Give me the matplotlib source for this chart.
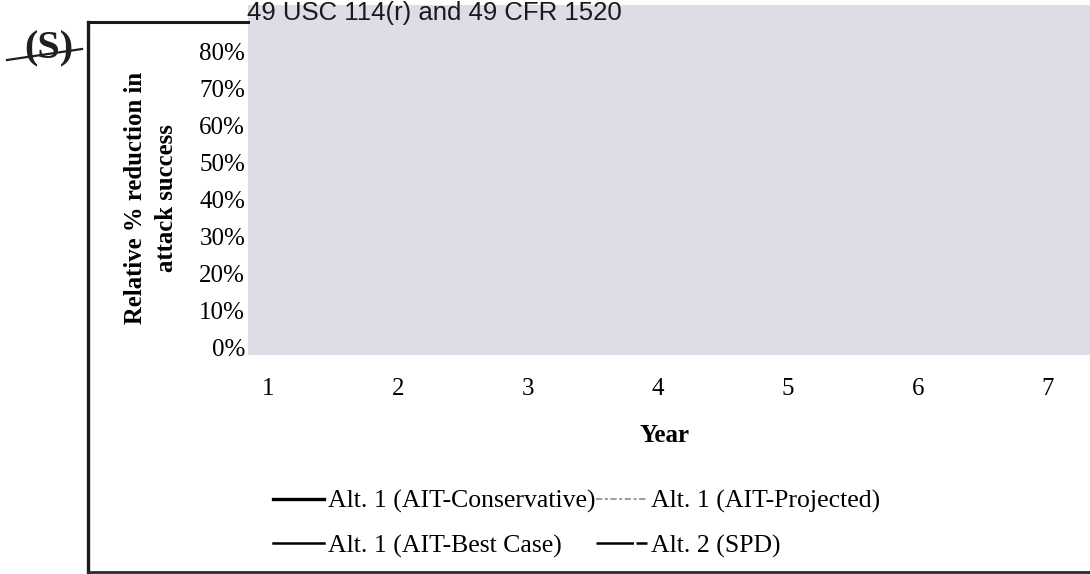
import matplotlib.pyplot as plt
from matplotlib.lines import Line2D

# Chart data (the plotted values are redacted in the source, so the series are empty)
years = [1, 2, 3, 4, 5, 6, 7]
pct_ticks = [0, 10, 20, 30, 40, 50, 60, 70, 80]
pct_labels = ["0%", "10%", "20%", "30%", "40%", "50%", "60%", "70%", "80%"]
series_names = ["Alt. 1 (AIT-Conservative)", "Alt. 1 (AIT-Projected)",
                "Alt. 1 (AIT-Best Case)", "Alt. 2 (SPD)"]
series_values = [[], [], [], []]
redaction_note = "49 USC 114(r) and 49 CFR 1520"

W, H = 1090, 574
fig = plt.figure(figsize=(W / 100, H / 100), dpi=100)
fig.patch.set_facecolor("white")

serif = "Liberation Serif"
fs = 18

# plot area is covered by the redaction box: pixels x 248..1090, y 5..355
ax = fig.add_axes([248 / W, 1 - 355 / H, (W - 248) / W, 350 / H])
ax.set_facecolor("#dcdde7")
for s in ax.spines.values():
    s.set_visible(False)

# x: year 1 at px 268, spacing 130 px; y: 0% at px 347, 36.9 px per 10%
ax.set_xlim(1 - 20 / 130, 7 + 42 / 130)
ax.set_ylim(-8 / 3.6875, (347 - 5) / 3.6875)

styles = [dict(color="black", lw=2.4, ls="-"),
          dict(color="#a0a0a0", lw=1.5, ls=(0, (3, 1.2, 1.5, 1.2))),
          dict(color="black", lw=1.8, ls="-"),
          dict(color="black", lw=1.8, ls=(0, (15, 1.0)))]
handles = []
for name, vals, st in zip(series_names, series_values, styles):
    line, = ax.plot(years[:len(vals)], vals, label=name, **st)
    handles.append(line)

ax.set_xticks(years)
ax.set_xticklabels([str(y) for y in years])
ax.set_yticks(pct_ticks)
ax.set_yticklabels(pct_labels)
ax.tick_params(axis="both", length=0, labelsize=fs)
ax.tick_params(axis="x", pad=16.5)
ax.tick_params(axis="y", pad=2)
for t in ax.get_xticklabels() + ax.get_yticklabels():
    t.set_fontfamily(serif)

ax.set_xlabel("Year", fontsize=fs, fontweight="bold", fontfamily=serif)
ax.xaxis.set_label_coords((665 - 248) / 842, (355 - 435) / 350)
ax.xaxis.label.set_va("center")

ax.set_ylabel("Relative % reduction in\nattack success", fontsize=17.8,
              fontweight="bold", fontfamily=serif, linespacing=1.45)
ax.yaxis.set_label_coords((151 - 248) / 842, (355 - 198) / 350)
ax.yaxis.label.set_va("center")

# legend below the chart; matplotlib fills by column, so reorder for rows
order = [0, 2, 1, 3]
fig.legend(handles=[handles[i] for i in order],
           labels=[series_names[i] for i in order], ncol=2,
           loc="upper left", bbox_to_anchor=(255 / W, 1 - 472 / H),
           frameon=False, prop={"family": serif, "size": 18.5},
           handlelength=2.0, handletextpad=0.15, columnspacing=0.0,
           labelspacing=0.82, borderpad=0.2)

# document frame lines
fig.add_artist(Line2D([88 / W, 88 / W], [1 - 22 / H, 0], color="#1a1a1a", lw=2.4))
fig.add_artist(Line2D([88 / W, 248 / W], [1 - 22 / H, 1 - 22 / H], color="#1a1a1a", lw=2.2))
fig.add_artist(Line2D([88 / W, 1], [1 - 572 / H, 1 - 572 / H], color="#2a2a2a", lw=2.0))

# classification marking, struck through
fig.text(49 / W, 1 - 49 / H, "(S)", fontsize=29, fontfamily=serif,
         fontweight="bold", ha="center", va="center", color="#202020")
fig.add_artist(Line2D([7 / W, 82 / W], [1 - 60 / H, 1 - 49 / H], color="#202020", lw=1.6))

# redaction reference
fig.text(247 / W, 1 - 13 / H, redaction_note, fontsize=18.5,
         fontfamily="Liberation Sans", ha="left", va="center", color="#1a1a1a")

fig.savefig("out.png", dpi=100)
